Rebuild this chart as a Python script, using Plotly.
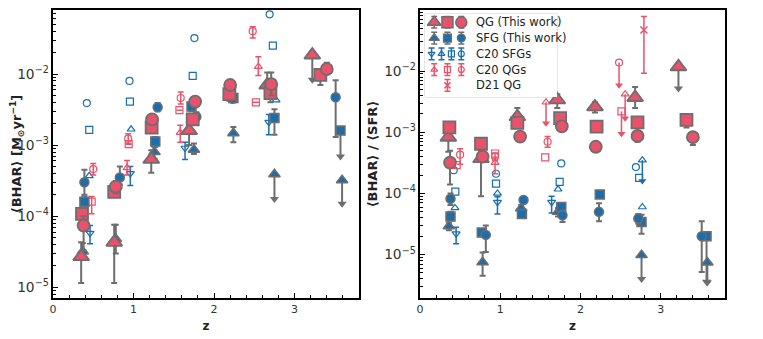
import plotly.graph_objects as go

RED = "#e8526a"
BLUE = "#1a6eae"
GREY = "#6e6e6e"

# ================= left panel: <BHAR> =================
# QG (this work)
L_qg_tri_z = [0.35, 0.76, 1.22, 1.69, 2.66]
L_qg_tri_y = [2.7e-5, 4.3e-5, 6.3e-4, 1.6e-3, 7.0e-3]
L_qg_tri_lo = [1.15e-5, 1.15e-5, 4.1e-4, 1.0e-3, 4.5e-3]
L_qg_tri_hi = [4.3e-5, 7.6e-5, 8.5e-4, 2.2e-3, 1.05e-2]
L_qg_tri_lim_z = [3.22]
L_qg_tri_lim_y = [1.85e-2]
L_qg_tri_lim_end = [8.3e-3]

L_qg_sq_z = [0.36, 0.76, 1.225, 1.735, 2.19, 2.70, 3.32]
L_qg_sq_y = [1.08e-4, 2.2e-4, 1.77e-3, 2.3e-3, 5.2e-3, 5.4e-3, 9.7e-3]
L_qg_sq_lo = [9.0e-5, 1.9e-4, 1.5e-3, 2.0e-3, 4.2e-3, 4.0e-3, 7.0e-3]
L_qg_sq_hi = [1.3e-4, 2.6e-4, 2.1e-3, 2.7e-3, 6.2e-3, 7.0e-3, 1.15e-2]

L_qg_ci_z = [0.38, 0.78, 1.23, 1.765, 2.20, 2.71, 3.40]
L_qg_ci_y = [7.4e-5, 2.6e-4, 2.3e-3, 4.1e-3, 7.0e-3, 7.2e-3, 1.17e-2]
L_qg_ci_lo = [3.3e-5, 2.1e-4, 2.0e-3, 3.4e-3, 6.0e-3, 5.0e-3, 1.0e-2]
L_qg_ci_hi = [1.0e-4, 3.1e-4, 2.6e-3, 4.8e-3, 8.0e-3, 1.05e-2, 1.44e-2]

# SFG (this work)
L_sf_tri_z = [0.37, 0.78, 1.26, 1.75, 2.24]
L_sf_tri_y = [3.2e-5, 4.8e-5, 8.0e-4, 8.6e-4, 1.47e-3]
L_sf_tri_lo = [2.5e-5, 3.0e-5, 6.5e-4, 7.5e-4, 1.1e-3]
L_sf_tri_hi = [4.2e-5, 7.6e-5, 9.5e-4, 1.05e-3, 1.8e-3]
L_sf_tri_lim_z = [2.75, 3.59]
L_sf_tri_lim_y = [3.9e-4, 3.2e-4]
L_sf_tri_lim_end = [1.75e-4, 1.5e-4]

L_sf_sq_z = [0.39, 1.27, 1.72, 2.24, 2.75]
L_sf_sq_y = [1.6e-4, 1.12e-3, 3.5e-3, 4.6e-3, 2.4e-3]
L_sf_sq_lo = [1.3e-4, 9.5e-4, 3.0e-3, 4.0e-3, 1.4e-3]
L_sf_sq_hi = [1.9e-4, 1.3e-3, 4.0e-3, 5.2e-3, 3.2e-3]
L_sf_sq_lim_z = [3.57]
L_sf_sq_lim_y = [1.6e-3]
L_sf_sq_lim_end = [6.9e-4]

L_sf_ci_z = [0.39, 0.83, 1.30, 1.78, 2.23, 3.51]
L_sf_ci_y = [3.0e-4, 3.5e-4, 3.4e-3, 2.5e-3, 4.5e-3, 4.7e-3]
L_sf_ci_lo = [2.0e-4, 2.8e-4, 3.0e-3, 2.2e-3, 4.0e-3, 1.3e-3]
L_sf_ci_hi = [4.5e-4, 5.0e-4, 3.9e-3, 2.9e-3, 5.0e-3, 8.2e-3]

# C20 SFGs
L_c20s_td_z = [0.46, 0.96, 1.64, 2.68]
L_c20s_td_y = [5.8e-5, 4.0e-4, 9.1e-4, 2.1e-3]
L_c20s_td_lo = [4.1e-5, 2.7e-4, 6.3e-4, 1.4e-3]
L_c20s_td_hi = [7.4e-5, 5.0e-4, 1.1e-3, 2.7e-3]
L_c20s_tu_z = [0.45, 0.97, 2.77]
L_c20s_tu_y = [3.7e-4, 1.67e-3, 4.3e-3]
L_c20s_sq_z = [0.45, 0.955, 1.735, 2.73]
L_c20s_sq_y = [1.64e-3, 4.1e-3, 9.4e-3, 2.5e-2]
L_c20s_ci_z = [0.42, 0.95, 1.756, 2.69]
L_c20s_ci_y = [3.9e-3, 8.0e-3, 3.2e-2, 6.9e-2]

# C20 QGs
L_c20q_tu_z = [0.92, 1.58, 2.55]
L_c20q_tu_y = [4.8e-4, 1.5e-3, 1.27e-2]
L_c20q_tu_lo = [3.8e-4, 1.1e-3, 9.5e-3]
L_c20q_tu_hi = [6.1e-4, 1.9e-3, 1.75e-2]
L_c20q_sq_z = [0.48, 0.94, 1.57, 2.52]
L_c20q_sq_y = [1.6e-4, 1.03e-3, 3.1e-3, 4.0e-3]
L_c20q_sq_lo = [1.08e-4, 1.03e-3, 3.1e-3, 4.0e-3]
L_c20q_sq_hi = [1.9e-4, 1.03e-3, 3.1e-3, 4.0e-3]
L_c20q_ci_z = [0.50, 0.934, 1.586, 2.48]
L_c20q_ci_y = [4.6e-4, 1.23e-3, 4.6e-3, 4.0e-2]
L_c20q_ci_lo = [3.8e-4, 1.05e-3, 3.8e-3, 3.2e-2]
L_c20q_ci_hi = [5.5e-4, 1.45e-3, 5.6e-3, 4.6e-2]

# ================= right panel: <BHAR>/<SFR> =================
R_qg_tri_z = [0.353, 0.76, 1.213, 1.71, 2.18, 2.68]
R_qg_tri_y = [8.3e-4, 3.7e-4, 1.8e-3, 3.4e-3, 2.6e-3, 3.7e-3]
R_qg_tri_lo = [4.8e-4, 9.0e-5, 1.4e-3, 2.5e-3, 2.1e-3, 2.5e-3]
R_qg_tri_hi = [1.0e-3, 5.0e-4, 2.5e-3, 4.2e-3, 3.1e-3, 5.5e-3]
R_qg_tri_lim_z = [3.22]
R_qg_tri_lim_y = [1.18e-2]
R_qg_tri_lim_end = [5.2e-3]

R_qg_sq_z = [0.366, 0.76, 1.213, 1.746, 2.20, 2.71, 3.32]
R_qg_sq_y = [1.2e-3, 6.5e-4, 1.43e-3, 1.7e-3, 1.24e-3, 1.45e-3, 1.6e-3]
R_qg_sq_lo = [1.05e-3, 5.5e-4, 1.25e-3, 1.5e-3, 1.1e-3, 1.25e-3, 1.2e-3]
R_qg_sq_hi = [1.35e-3, 7.5e-4, 1.6e-3, 1.9e-3, 1.4e-3, 1.65e-3, 2.0e-3]

R_qg_ci_z = [0.374, 0.78, 1.247, 1.767, 2.19, 2.71, 3.40]
R_qg_ci_y = [3.2e-4, 4.0e-4, 8.5e-4, 1.25e-3, 5.8e-4, 8.7e-4, 8.3e-4]
R_qg_ci_lo = [1.4e-4, 3.3e-4, 7.5e-4, 1.1e-3, 5.0e-4, 7.0e-4, 6.2e-4]
R_qg_ci_hi = [5.0e-4, 4.8e-4, 9.5e-4, 1.4e-3, 6.5e-4, 1.05e-3, 1.0e-3]

R_sf_tri_z = [0.36, 0.78, 1.26, 1.72]
R_sf_tri_y = [2.9e-5, 7.5e-6, 5.7e-5, 5.0e-5]
R_sf_tri_lo = [2.5e-5, 4.5e-6, 5.0e-5, 4.2e-5]
R_sf_tri_hi = [3.3e-5, 1.08e-5, 6.5e-5, 5.8e-5]
R_sf_tri_lim_z = [2.76, 3.58]
R_sf_tri_lim_y = [9.8e-6, 7.4e-6]
R_sf_tri_lim_end = [4.0e-6, 3.5e-6]

R_sf_sq_z = [0.38, 0.77, 1.27, 1.76, 2.24, 2.76]
R_sf_sq_y = [4.2e-5, 2.3e-5, 4.6e-5, 6.0e-5, 9.6e-5, 3.4e-5]
R_sf_sq_lo = [3.6e-5, 2.0e-5, 4.0e-5, 5.0e-5, 8.5e-5, 2.2e-5]
R_sf_sq_hi = [5.0e-5, 2.6e-5, 5.2e-5, 7.0e-5, 1.08e-4, 4.5e-5]
R_sf_sq_lim_z = [3.57]
R_sf_sq_lim_y = [2.0e-5]
R_sf_sq_lim_end = [3.6e-6]

R_sf_ci_z = [0.38, 0.82, 1.29, 1.775, 2.23, 2.72, 3.51]
R_sf_ci_y = [8.2e-5, 2.1e-5, 7.8e-5, 4.4e-5, 5.0e-5, 3.9e-5, 2.0e-5]
R_sf_ci_lo = [6.5e-5, 1.1e-5, 7.0e-5, 3.4e-5, 3.5e-5, 3.2e-5, 5.2e-6]
R_sf_ci_hi = [1.0e-4, 3.0e-5, 8.8e-5, 5.2e-5, 6.9e-5, 4.6e-5, 3.5e-5]

R_c20s_td_z = [0.45, 0.965, 1.64]
R_c20s_td_y = [2.2e-5, 7.2e-5, 7.2e-5]
R_c20s_td_lo = [1.5e-5, 4.6e-5, 4.8e-5]
R_c20s_td_hi = [2.8e-5, 8.8e-5, 9.0e-5]
R_c20s_tu_z = [0.436, 0.965, 1.72, 2.77]
R_c20s_tu_y = [5.8e-5, 1.0e-4, 1.17e-4, 6.0e-5]
R_c20s_tu_lim_z = [2.77]
R_c20s_tu_lim_y = [3.5e-4]
R_c20s_tu_lim_end = [1.6e-4]
R_c20s_sq_z = [0.44, 0.947, 1.74, 2.73]
R_c20s_sq_y = [1.07e-4, 1.45e-4, 1.55e-4, 1.8e-4]
R_c20s_ci_z = [0.42, 0.947, 1.76, 2.69]
R_c20s_ci_y = [2.4e-4, 2.1e-4, 3.1e-4, 2.7e-4]

R_c20q_tu_z = [0.935]
R_c20q_tu_y = [3.2e-4]
R_c20q_tu_lo = [2.1e-4]
R_c20q_tu_hi = [3.8e-4]
R_c20q_tu_lim_z = [1.57, 2.556]
R_c20q_tu_lim_y = [3.1e-3, 4.2e-3]
R_c20q_tu_lim_end = [1.4e-3, 1.7e-3]
R_c20q_sq_z = [0.457, 0.935, 1.56]
R_c20q_sq_y = [2.9e-4, 4.5e-4, 3.9e-4]
R_c20q_sq_lim_z = [2.51]
R_c20q_sq_lim_y = [2.2e-3]
R_c20q_sq_lim_end = [9.5e-4]
R_c20q_ci_z = [0.50, 0.935, 1.59]
R_c20q_ci_y = [4.3e-4, 4.0e-4, 7.0e-4]
R_c20q_ci_lo = [3.0e-4, 3.5e-4, 5.7e-4]
R_c20q_ci_hi = [5.4e-4, 4.6e-4, 8.5e-4]
R_c20q_ci_lim_z = [2.48]
R_c20q_ci_lim_y = [1.38e-2]
R_c20q_ci_lim_end = [5.9e-3]

R_d21_z = [2.79]
R_d21_y = [4.7e-2]
R_d21_lo = [9.2e-3]
R_d21_hi = [7.8e-2]

legend_labels = ["QG (This work)", "SFG (This work)", "C20 SFGs", "C20 QGs", "D21 QG"]

# page has an 8px body margin, so the figure is drawn 8px smaller and offset
W, H, OFF = 755, 331, 8


def px(x):
    return (x - OFF) / W


def py(y):
    return 1 - (y - OFF) / H


fig = go.Figure()


def axes(panel):
    return ("x", "y") if panel == 0 else ("x2", "y2")


def pts(z, y, panel, symbol, size, fill, edge, lw, lo=None, hi=None, ecol=GREY, ew=2):
    xa, ya = axes(panel)
    err = None
    if lo is not None:
        err = dict(type="data", symmetric=False,
                   array=[h - v for v, h in zip(y, hi)],
                   arrayminus=[v - l for v, l in zip(y, lo)],
                   color=ecol, thickness=ew, width=3)
    fig.add_trace(go.Scatter(x=z, y=y, mode="markers", xaxis=xa, yaxis=ya,
                             marker=dict(symbol=symbol, size=size, color=fill,
                                         line=dict(color=edge, width=lw)),
                             error_y=err, showlegend=False, hoverinfo="skip"))


def lims(z, y, end, panel, color, lw, head):
    xa, ya = axes(panel)
    xs, ys = [], []
    for a, b, c in zip(z, y, end):
        xs += [a, a, None]
        ys += [b, c, None]
    fig.add_trace(go.Scatter(x=xs, y=ys, mode="lines", xaxis=xa, yaxis=ya,
                             line=dict(color=color, width=lw),
                             showlegend=False, hoverinfo="skip"))
    fig.add_trace(go.Scatter(x=z, y=end, mode="markers", xaxis=xa, yaxis=ya,
                             marker=dict(symbol="triangle-down", size=head, color=color),
                             showlegend=False, hoverinfo="skip"))


# ---------- left panel ----------
pts(L_c20s_td_z, L_c20s_td_y, 0, "triangle-down-open", 7, BLUE, BLUE, 1.2, L_c20s_td_lo, L_c20s_td_hi, BLUE, 1.5)
pts(L_c20s_tu_z, L_c20s_tu_y, 0, "triangle-up-open", 7, BLUE, BLUE, 1.2)
pts(L_c20s_sq_z, L_c20s_sq_y, 0, "square-open", 7, BLUE, BLUE, 1.2)
pts(L_c20s_ci_z, L_c20s_ci_y, 0, "circle-open", 7, BLUE, BLUE, 1.2)
pts(L_c20q_tu_z, L_c20q_tu_y, 0, "triangle-up-open", 7, RED, RED, 1.2, L_c20q_tu_lo, L_c20q_tu_hi, RED, 1.5)
pts(L_c20q_sq_z, L_c20q_sq_y, 0, "square-open", 7, RED, RED, 1.2, L_c20q_sq_lo, L_c20q_sq_hi, RED, 1.5)
pts(L_c20q_ci_z, L_c20q_ci_y, 0, "circle-open", 7, RED, RED, 1.2, L_c20q_ci_lo, L_c20q_ci_hi, RED, 1.5)

lims(L_sf_tri_lim_z, L_sf_tri_lim_y, L_sf_tri_lim_end, 0, GREY, 2, 8)
lims(L_sf_sq_lim_z, L_sf_sq_lim_y, L_sf_sq_lim_end, 0, GREY, 2, 8)
lims(L_qg_tri_lim_z, L_qg_tri_lim_y, L_qg_tri_lim_end, 0, GREY, 2, 8)
pts(L_sf_tri_z, L_sf_tri_y, 0, "triangle-up", 10, BLUE, GREY, 1.5, L_sf_tri_lo, L_sf_tri_hi)
pts(L_sf_tri_lim_z, L_sf_tri_lim_y, 0, "triangle-up", 10, BLUE, GREY, 1.5)
pts(L_sf_sq_z, L_sf_sq_y, 0, "square", 9, BLUE, GREY, 1.5, L_sf_sq_lo, L_sf_sq_hi)
pts(L_sf_sq_lim_z, L_sf_sq_lim_y, 0, "square", 9, BLUE, GREY, 1.5)
pts(L_sf_ci_z, L_sf_ci_y, 0, "circle", 9, BLUE, GREY, 1.5, L_sf_ci_lo, L_sf_ci_hi)
pts(L_qg_tri_z, L_qg_tri_y, 0, "triangle-up", 14, RED, GREY, 1.8, L_qg_tri_lo, L_qg_tri_hi)
pts(L_qg_tri_lim_z, L_qg_tri_lim_y, 0, "triangle-up", 14, RED, GREY, 1.8)
pts(L_qg_sq_z, L_qg_sq_y, 0, "square", 12, RED, GREY, 1.8, L_qg_sq_lo, L_qg_sq_hi)
pts(L_qg_ci_z, L_qg_ci_y, 0, "circle", 12, RED, GREY, 1.8, L_qg_ci_lo, L_qg_ci_hi)

# ---------- right panel ----------
lims(R_c20s_tu_lim_z, R_c20s_tu_lim_y, R_c20s_tu_lim_end, 1, BLUE, 1.5, 7)
lims(R_c20q_tu_lim_z, R_c20q_tu_lim_y, R_c20q_tu_lim_end, 1, RED, 1.5, 7)
lims(R_c20q_sq_lim_z, R_c20q_sq_lim_y, R_c20q_sq_lim_end, 1, RED, 1.5, 7)
lims(R_c20q_ci_lim_z, R_c20q_ci_lim_y, R_c20q_ci_lim_end, 1, RED, 1.5, 7)
pts(R_c20s_td_z, R_c20s_td_y, 1, "triangle-down-open", 7, BLUE, BLUE, 1.2, R_c20s_td_lo, R_c20s_td_hi, BLUE, 1.5)
pts(R_c20s_tu_z, R_c20s_tu_y, 1, "triangle-up-open", 7, BLUE, BLUE, 1.2)
pts(R_c20s_tu_lim_z, R_c20s_tu_lim_y, 1, "triangle-up-open", 7, BLUE, BLUE, 1.2)
pts(R_c20s_sq_z, R_c20s_sq_y, 1, "square-open", 7, BLUE, BLUE, 1.2)
pts(R_c20s_ci_z, R_c20s_ci_y, 1, "circle-open", 7, BLUE, BLUE, 1.2)
pts(R_c20q_tu_z, R_c20q_tu_y, 1, "triangle-up-open", 7, RED, RED, 1.2, R_c20q_tu_lo, R_c20q_tu_hi, RED, 1.5)
pts(R_c20q_tu_lim_z, R_c20q_tu_lim_y, 1, "triangle-up-open", 7, RED, RED, 1.2)
pts(R_c20q_sq_z, R_c20q_sq_y, 1, "square-open", 7, RED, RED, 1.2)
pts(R_c20q_sq_lim_z, R_c20q_sq_lim_y, 1, "square-open", 7, RED, RED, 1.2)
pts(R_c20q_ci_z, R_c20q_ci_y, 1, "circle-open", 7, RED, RED, 1.2, R_c20q_ci_lo, R_c20q_ci_hi, RED, 1.5)
pts(R_c20q_ci_lim_z, R_c20q_ci_lim_y, 1, "circle-open", 7, RED, RED, 1.2)
pts(R_d21_z, R_d21_y, 1, "x-thin-open", 7, RED, RED, 1.5, R_d21_lo, R_d21_hi, RED, 1.5)

lims(R_sf_tri_lim_z, R_sf_tri_lim_y, R_sf_tri_lim_end, 1, GREY, 2, 8)
lims(R_sf_sq_lim_z, R_sf_sq_lim_y, R_sf_sq_lim_end, 1, GREY, 2, 8)
lims(R_qg_tri_lim_z, R_qg_tri_lim_y, R_qg_tri_lim_end, 1, GREY, 2, 8)
pts(R_sf_tri_z, R_sf_tri_y, 1, "triangle-up", 10, BLUE, GREY, 1.5, R_sf_tri_lo, R_sf_tri_hi)
pts(R_sf_tri_lim_z, R_sf_tri_lim_y, 1, "triangle-up", 10, BLUE, GREY, 1.5)
pts(R_sf_sq_z, R_sf_sq_y, 1, "square", 9, BLUE, GREY, 1.5, R_sf_sq_lo, R_sf_sq_hi)
pts(R_sf_sq_lim_z, R_sf_sq_lim_y, 1, "square", 9, BLUE, GREY, 1.5)
pts(R_sf_ci_z, R_sf_ci_y, 1, "circle", 9, BLUE, GREY, 1.5, R_sf_ci_lo, R_sf_ci_hi)
pts(R_qg_tri_z, R_qg_tri_y, 1, "triangle-up", 14, RED, GREY, 1.8, R_qg_tri_lo, R_qg_tri_hi)
pts(R_qg_tri_lim_z, R_qg_tri_lim_y, 1, "triangle-up", 14, RED, GREY, 1.8)
pts(R_qg_sq_z, R_qg_sq_y, 1, "square", 12, RED, GREY, 1.8, R_qg_sq_lo, R_qg_sq_hi)
pts(R_qg_ci_z, R_qg_ci_y, 1, "circle", 12, RED, GREY, 1.8, R_qg_ci_lo, R_qg_ci_hi)

# ---------- hand-built legend (inside right panel) ----------
rows = [0.90, 0.71, 0.52, 0.33, 0.14]
leg_items = [
    # (column, row, symbol, size, fill, edge, lw, errcolor)
    (0.07, 0, "triangle-up", 12, RED, GREY, 1.5, GREY),
    (0.17, 0, "square", 11, RED, GREY, 1.5, GREY),
    (0.275, 0, "circle", 11, RED, GREY, 1.5, GREY),
    (0.07, 1, "triangle-up", 9, BLUE, GREY, 1.2, GREY),
    (0.17, 1, "square", 8, BLUE, GREY, 1.2, GREY),
    (0.275, 1, "circle", 8, BLUE, GREY, 1.2, GREY),
    (0.05, 2, "triangle-down-open", 6, BLUE, BLUE, 1.2, BLUE),
    (0.125, 2, "triangle-up-open", 6, BLUE, BLUE, 1.2, BLUE),
    (0.20, 2, "square-open", 6, BLUE, BLUE, 1.2, BLUE),
    (0.275, 2, "circle-open", 6, BLUE, BLUE, 1.2, BLUE),
    (0.07, 3, "triangle-up-open", 6, RED, RED, 1.2, RED),
    (0.17, 3, "square-open", 6, RED, RED, 1.2, RED),
    (0.275, 3, "circle-open", 6, RED, RED, 1.2, RED),
    (0.17, 4, "x-thin-open", 6, RED, RED, 1.5, RED),
]
for cx, r, sym, sz, fc, ec, lw, errc in leg_items:
    fig.add_trace(go.Scatter(x=[cx], y=[rows[r]], mode="markers", xaxis="x3", yaxis="y3",
                             marker=dict(symbol=sym, size=sz, color=fc, line=dict(color=ec, width=lw)),
                             error_y=dict(type="constant", value=0.07, color=errc,
                                          thickness=1.5, width=3),
                             showlegend=False, hoverinfo="skip"))

LEG_X0, LEG_X1, LEG_Y0, LEG_Y1 = px(425), px(557), py(97), py(14)
fig.add_shape(type="rect", xref="paper", yref="paper", x0=LEG_X0, x1=LEG_X1, y0=LEG_Y0, y1=LEG_Y1,
              line=dict(color="#cccccc", width=1), fillcolor="white", layer="below")
for r, lab in enumerate(legend_labels):
    fig.add_annotation(x=0.37, y=rows[r], xref="x3", yref="y3", text=lab, showarrow=False,
                       xanchor="left", yanchor="middle",
                       font=dict(size=11.5, color="#222222", family="DejaVu Sans"))

# ---------- layout ----------
tickfont = dict(size=11, color="#333333", family="DejaVu Sans")
xcommon = dict(range=[0, 3.8], tickvals=[0, 1, 2, 3], ticks="inside", ticklen=5, tickwidth=1,
               tickcolor="black", showline=True, linecolor="black", linewidth=2, mirror=True,
               showgrid=False, zeroline=False, tickfont=tickfont, automargin=False,
               minor=dict(dtick=0.2, ticks="inside", ticklen=3, tickcolor="black"),
               title=dict(text="<b>z</b>", font=dict(size=12, color="#222222", family="DejaVu Sans"),
                          standoff=6))
ycommon = dict(type="log", dtick=1, exponentformat="power", ticks="inside", ticklen=5,
               tickwidth=1, tickcolor="black", showline=True, linecolor="black", linewidth=2,
               mirror=True, showgrid=False, zeroline=False, tickfont=tickfont, automargin=False,
               minor=dict(ticks="inside", ticklen=3, tickcolor="black", dtick="D1"))

fig.update_layout(
    width=W, height=H,
    margin=dict(l=0, r=0, t=0, b=0),
    paper_bgcolor="white", plot_bgcolor="white",
    showlegend=False,
    font=dict(family="DejaVu Sans"),
    xaxis=dict(domain=[px(53), px(359)], anchor="y", **xcommon),
    yaxis=dict(domain=[py(298), py(10)], anchor="x", range=[-5.15, -1.1],
               title=dict(text="<b>⟨BHAR⟩ [M<sub>⊙</sub>yr<sup>−1</sup>]</b>",
                          font=dict(size=13, color="#222222"), standoff=4),
               **ycommon),
    xaxis2=dict(domain=[px(420), px(725)], anchor="y2", **xcommon),
    yaxis2=dict(domain=[py(298), py(10)], anchor="x2", range=[-5.71, -1],
                title=dict(text="<b>⟨BHAR⟩ / ⟨SFR⟩</b>",
                           font=dict(size=13, color="#222222"), standoff=4),
                **ycommon),
    xaxis3=dict(domain=[LEG_X0, LEG_X1], anchor="y3", range=[0, 1], visible=False),
    yaxis3=dict(domain=[LEG_Y0, LEG_Y1], anchor="x3", range=[0, 1], visible=False),
)

fig.write_html("out.html")
